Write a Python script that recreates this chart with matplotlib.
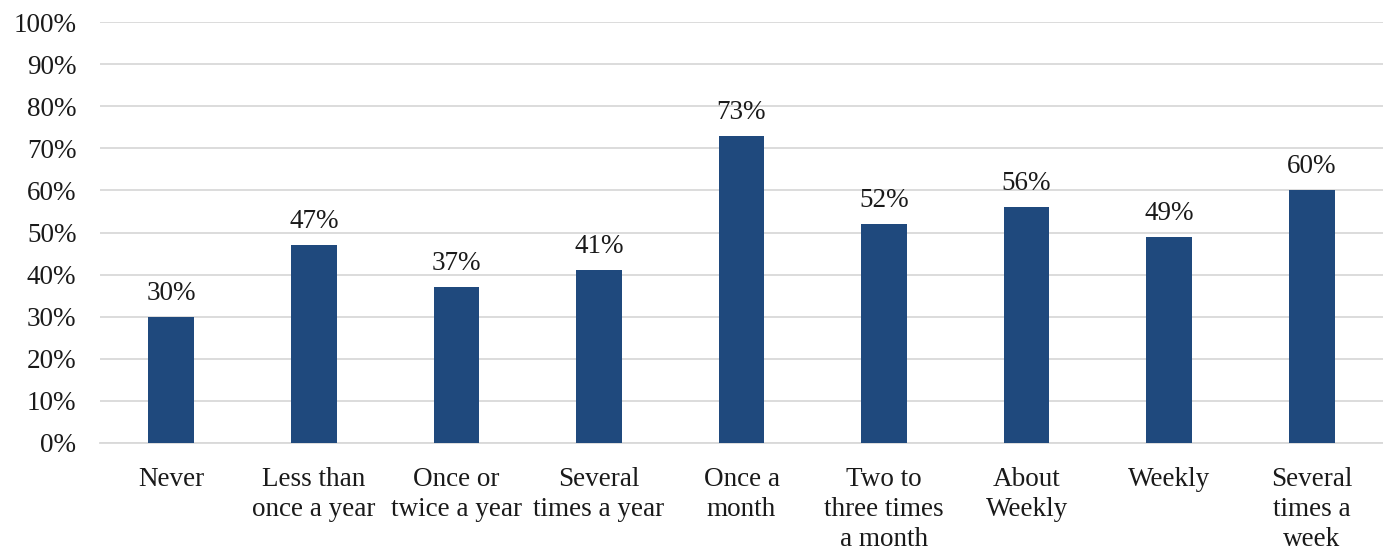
import matplotlib
matplotlib.use("Agg")
import matplotlib.pyplot as plt
from matplotlib.ticker import FuncFormatter, MultipleLocator

categories = [
    "Never", "Less than\nonce a year", "Once or\ntwice a year", "Several\ntimes a year",
    "Once a\nmonth", "Two to\nthree times\na month", "About\nWeekly", "Weekly",
    "Several\ntimes a\nweek",
]
values = [30, 47, 37, 41, 73, 52, 56, 49, 60]

plt.rcParams["font.family"] = ["Liberation Serif", "DejaVu Serif"]
FS = 19.5

fig = plt.figure(figsize=(13.83, 5.5), dpi=100)
ax = fig.add_axes([100 / 1383, 107 / 550, 1283 / 1383, 421 / 550])

x = list(range(len(categories)))
ax.bar(x, values, width=0.32, color="#1F497D", zorder=3)
for xi, v in zip(x, values):
    ax.text(xi, v + 2.6, f"{v}%", ha="center", va="bottom", fontsize=FS, color="#1a1a1a")

ax.set_xlim(-0.5, len(categories) - 0.5)
ax.set_ylim(0, 100)
ax.yaxis.set_major_locator(MultipleLocator(10))
ax.yaxis.set_major_formatter(FuncFormatter(lambda v, p: f"{int(v)}%"))
ax.grid(axis="y", color="#D9D9D9", linewidth=1.3, zorder=0)
for s in ["top", "right", "left"]:
    ax.spines[s].set_visible(False)
ax.spines["bottom"].set_color("#D9D9D9")
ax.spines["bottom"].set_linewidth(1.3)
ax.tick_params(axis="both", length=0, labelsize=FS, colors="#1a1a1a")
ax.tick_params(axis="y", pad=17)
ax.tick_params(axis="x", pad=17)
ax.set_xticks(x)
ax.set_xticklabels(categories, linespacing=1.27)

fig.savefig("out.png", dpi=100)
